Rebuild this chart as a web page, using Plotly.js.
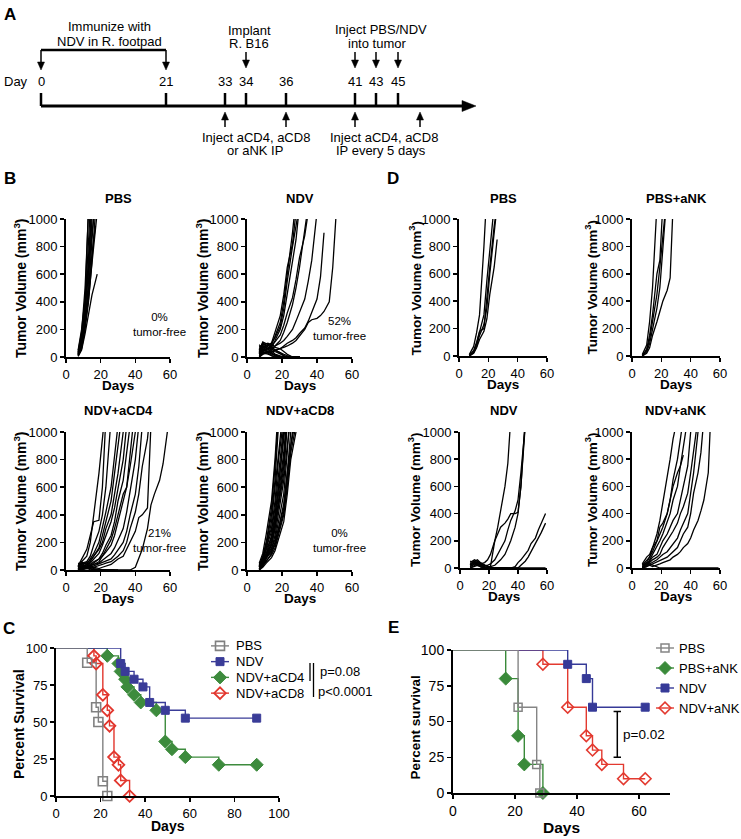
<!DOCTYPE html>
<html><head><meta charset="utf-8">
<script src="https://cdn.plot.ly/plotly-3.0.1.min.js"></script>
<style>html,body{margin:0;padding:0;background:#fff}</style>
</head><body><div id="chart" style="width:741px;height:839px"></div>
<script>
// ================= DATA =================
// Panel A (schematic timeline)
const timelineDays = ['0', '21', '33', '34', '36', '41', '43', '45'];

// Panel B: tumor volume (mm3) per mouse, on a common measurement-day grid
const bPbsDays = [7, 9, 11, 13, 15, 17, 18];
const bPbsVol = [
  [20, 120, 400, 1100],
  [40, 180, 500, 1050],
  [10, 90, 300, 700, 1150],
  [30, 150, 380, 800, 1300],
  [15, 70, 250, 550, 1000],
  [50, 200, 420, 650, 1100],
  [20, 100, 260, 480, 850, 1200],
  [10, 60, 200, 400, 700, 1050],
  [25, 110, 270, 450, 750, 950],
  [5, 50, 170, 300, 450, 550, 600],
  [35, 130, 330, 600, 900, 1100],
  [15, 80, 230, 420, 680, 900, 1050]
];

const bNdvDays = [7, 9, 12, 14, 16, 19, 21, 23, 26, 28, 30, 33, 35, 37, 40, 42, 44, 47, 49, 51, 54, 56, 58];
const bNdvVol = [
  [30, 90, 60, 90, 150, 250, 400, 600, 900, 1150],
  [50, 100, 80, 100, 180, 300, 450, 650, 820, 1050],
  [20, 60, 50, 70, 120, 200, 300, 450, 700, 850, 1100],
  [40, 110, 90, 100, 140, 220, 350, 550, 800, 950, 1100],
  [10, 40, 30, 50, 80, 120, 180, 250, 380, 500, 650, 900, 1100],
  [20, 70, 60, 80, 110, 160, 230, 320, 430, 560, 720, 880, 1050],
  [0, 30, 40, 60, 80, 100, 120, 150, 200, 260, 330, 420, 550, 700, 1050],
  [0, 20, 30, 40, 50, 60, 80, 100, 120, 140, 170, 210, 260, 330, 420, 580, 900],
  [0, 20, 40, 30, 50, 60, 70, 80, 100, 120, 150, 200, 250, 270, 280, 300, 330, 400, 650, 1050],
  [40, 80, 60, 30, 10, 0, 0, 0, 0, 0, 0],
  [60, 100, 70, 50, 20, 10, 0, 0, 0, 0, 0],
  [20, 50, 40, 20, 10, 0, 0, 0, 0, 0, 0],
  [80, 60, 40, 30, 20, 0, 0, 0, 0, 0, 0],
  [30, 70, 90, 60, 40, 20, 10, 0, 0, 0, 0],
  [10, 30, 20, 10, 0, 0, 0, 0, 0, 0, 0],
  [50, 90, 100, 80, 50, 30, 20, 10, 0, 0, 0],
  [20, 40, 60, 70, 50, 30, 10, 0, 0, 0, 0],
  [90, 60, 30, 10, 0, 0, 0, 0, 0, 0, 0],
  [30, 50, 80, 100, 70, 60, 40, 20, 0, 0, 0]
];

const bCd4Days = [7, 9, 12, 14, 16, 19, 21, 23, 26, 28, 30, 33, 35, 37, 40, 42, 44, 47, 49, 51, 54, 56, 59];
const bCd4Vol = [
  [20, 60, 100, 200, 400, 700, 950, 1200],
  [30, 80, 150, 250, 350, 360, 600, 1100],
  [10, 30, 60, 100, 180, 280, 400, 600, 1100],
  [5, 20, 40, 80, 120, 200, 300, 420, 600, 800, 1050],
  [0, 10, 30, 60, 100, 160, 250, 350, 500, 700, 900, 1200],
  [10, 40, 50, 70, 100, 150, 200, 300, 400, 550, 700, 1000],
  [0, 20, 40, 50, 80, 120, 180, 250, 350, 450, 600, 800, 1050],
  [0, 10, 20, 30, 50, 80, 120, 180, 250, 350, 500, 650, 850, 1050],
  [20, 50, 40, 30, 40, 60, 100, 150, 220, 300, 400, 550, 600, 800, 1200],
  [0, 10, 20, 40, 60, 80, 100, 130, 180, 250, 350, 480, 600, 750, 1000],
  [0, 20, 30, 30, 40, 50, 70, 90, 120, 160, 220, 300, 420, 560, 800, 1050],
  [0, 10, 20, 20, 30, 40, 50, 60, 80, 110, 150, 200, 280, 400, 550, 750, 1050],
  [0, 20, 10, 10, 20, 30, 40, 50, 60, 80, 100, 140, 200, 300, 420, 550, 750, 950, 1200],
  [0, 10, 20, 30, 20, 10, 20, 30, 40, 60, 80, 100, 150, 200, 280, 380, 400, 450, 1050],
  [0, 0, 10, 10, 0, 0, 0, 0, 0, 0, 0, 0, 0, 0, 20, 80, 150, 300, 470, 550, 650, 770, 1050],
  [30, 60, 40, 20, 10, 0, 0, 0, 0, 0, 0],
  [10, 30, 20, 0, 0, 0, 0, 0],
  [50, 40, 20, 10, 0, 0, 0, 0],
  [20, 50, 60, 30, 10, 0, 0, 0, 0, 0]
];

const bCd8Days = [7, 9, 11, 14, 16, 18, 21, 23, 25, 28];
const bCd8Vol = [
  [30, 90, 200, 450, 750, 1100],
  [50, 120, 260, 500, 800, 1200],
  [20, 80, 180, 400, 650, 1050],
  [10, 60, 150, 350, 600, 900, 1200],
  [40, 100, 200, 300, 500, 800, 1100],
  [20, 70, 160, 280, 450, 700, 1050],
  [10, 50, 120, 250, 400, 600, 1000],
  [30, 80, 150, 230, 350, 550, 850, 1150],
  [0, 40, 100, 200, 330, 500, 800, 1100],
  [20, 60, 120, 180, 300, 450, 700, 1050],
  [10, 30, 80, 150, 250, 400, 650, 900, 1100],
  [40, 70, 100, 160, 220, 350, 550, 850, 1200],
  [0, 30, 60, 120, 200, 300, 480, 700, 1000],
  [20, 50, 90, 130, 180, 280, 420, 650, 900, 1100],
  [10, 40, 70, 110, 160, 250, 400, 600, 850, 1050],
  [30, 60, 100, 140, 200, 300, 450, 700, 950, 1200],
  [0, 20, 50, 90, 140, 220, 350, 550, 800, 1000],
  [10, 40, 90, 180, 300, 480, 750, 1100],
  [20, 50, 110, 220, 380, 600, 950, 1200]
];

// Panel D
const dPbsDays = [7, 10, 12, 14, 17, 19, 21, 24, 26, 28];
const dPbsVol = [
  [10, 70, 170, 300, 800, 1200],
  [0, 30, 90, 170, 300, 550, 800, 1100],
  [5, 40, 100, 180, 200, 400, 650, 950, 1100],
  [0, 20, 60, 120, 180, 270, 450, 650, 850],
  [0, 25, 70, 150, 230, 350, 600, 900, 1100]
];
const dPbsAnkVol = [
  [10, 80, 250, 500, 1100],
  [0, 50, 150, 300, 600, 700, 1100],
  [5, 40, 120, 250, 450, 650, 900, 1200],
  [0, 30, 90, 200, 350, 500, 800, 1200],
  [0, 20, 60, 150, 250, 330, 400, 480, 570, 1100]
];
const dNdvDays = [7, 10, 12, 14, 17, 19, 21, 24, 26, 28, 31, 33, 35, 38, 40, 42, 45, 47, 49, 52, 54, 56, 59];
const dNdvVol = [
  [30, 50, 40, 30, 40, 60, 100, 200, 300, 420, 600, 770, 1100],
  [20, 40, 30, 20, 10, 0, 10, 20, 40, 60, 100, 150, 200, 300, 400, 600, 1100],
  [10, 30, 50, 40, 20, 10, 10, 200, 250, 300, 330, 360, 400, 400, 410, 600, 1050],
  [0, 20, 30, 30, 20, 20, 30, 60, 100, 150, 200, 280, 350, 420, 500, 700, 1050],
  [0, 10, 20, 10, 0, 0, 0, 0, 0, 0, 0, 0, 0, 10, 40, 60, 100, 130, 180, 220, 280, 330, 400],
  [20, 40, 30, 10, 0, 0, 0, 0, 0, 0, 0, 0, 0, 0, 0, 20, 50, 80, 120, 170, 220, 260, 330],
  [40, 60, 50, 30, 10, 0, 0, 0, 0, 0, 0, 0, 0, 0, 0, 0, 0, 0, 0, 0, 0, 0, 0],
  [20, 50, 60, 40, 20, 10, 0, 0, 0, 0, 0, 0],
  [10, 30, 20, 10, 0, 0, 0, 0, 0, 0],
  [50, 40, 30, 20, 10, 0, 0, 0, 0, 0]
];
const dNdvAnkVol = [
  [10, 40, 80, 150, 250, 350, 480, 650, 800, 950, 1100],
  [20, 60, 80, 120, 200, 250, 300, 400, 500, 650, 800, 950, 1100],
  [30, 80, 100, 150, 200, 300, 330, 400, 500, 600, 700, 750, 830],
  [0, 20, 60, 100, 150, 200, 250, 350, 400, 500, 600, 750, 900, 1100],
  [10, 30, 50, 80, 100, 150, 200, 250, 300, 350, 400, 500, 600, 750, 1000],
  [0, 20, 40, 60, 80, 100, 150, 200, 230, 270, 330, 400, 450, 550, 700, 850, 1100],
  [0, 10, 30, 40, 60, 80, 100, 120, 150, 180, 220, 280, 330, 400, 550, 700, 1000],
  [10, 30, 20, 30, 40, 50, 60, 80, 100, 120, 150, 200, 250, 300, 400, 550, 700, 850, 1100],
  [0, 10, 20, 10, 20, 30, 40, 50, 60, 80, 100, 120, 150, 180, 220, 280, 350, 420, 500, 700, 1200],
  [20, 40, 30, 20, 10, 0, 0, 0, 0, 0, 0, 0, 0, 0, 0, 0, 0, 0, 0, 0, 0, 0, 0]
];

// Panel C: Kaplan-Meier (days, percent survival)
const cNames = ['PBS', 'NDV', 'NDV+aCD4', 'NDV+aCD8'];
const cPbsDays = [0, 14, 18, 19, 21, 23];
const cPbsSurv = [100, 90, 60, 50, 10, 0];
const cNdvDays = [0, 29, 31, 35, 39, 42, 49, 58, 90];
const cNdvSurv = [100, 89.5, 84.2, 78.9, 73.7, 63.2, 57.9, 52.6, 52.6];
const cCd4Days = [0, 23, 28, 29, 31, 32, 35, 38, 45, 49, 52, 58, 73, 90];
const cCd4Surv = [100, 94.7, 89.5, 84.2, 78.9, 73.7, 68.4, 63.2, 57.9, 36.8, 31.6, 26.3, 21.1, 21.1];
const cCd8Days = [0, 17, 18, 21, 23, 24, 26, 28, 29, 33];
const cCd8Surv = [100, 94.7, 89.5, 68.4, 57.9, 47.4, 26.3, 21.1, 10.5, 0];
const cPValues = ['p=0.08', 'p<0.0001'];

// Panel E
const eNames = ['PBS', 'PBS+aNK', 'NDV', 'NDV+aNK'];
const ePbsDays = [0, 21, 27, 28];
const ePbsSurv = [100, 60, 20, 0];
const eAnkDays = [0, 17, 21, 23, 29];
const eAnkSurv = [100, 80, 40, 20, 0];
const eNdvDays = [0, 37, 43, 45, 62];
const eNdvSurv = [100, 90, 80, 60, 60];
const eNdvAnkDays = [0, 29, 37, 43, 45, 48, 55, 62];
const eNdvAnkSurv = [100, 90, 60, 40, 30, 20, 10, 10];
const ePValue = 'p=0.02';
const ePBar = [53, 25, 57]; // day, low %, high %

// ================= LAYOUT / DRAWING =================
const W = 741, H = 839;
const FONT = '"Liberation Sans", Arial, Helvetica, sans-serif';
const NARROW = '"Liberation Sans Narrow", "Arial Narrow", "Liberation Sans", sans-serif';
const px = v => v / W;
const py = v => 1 - v / H;
const sfx = n => (n === 1 ? '' : String(n));

const traces = [];
const layout = {
  width: W, height: H, margin: {l: 0, r: 0, t: 0, b: 0},
  paper_bgcolor: '#fff', plot_bgcolor: 'rgba(0,0,0,0)', showlegend: false,
  font: {family: FONT, color: '#000', size: 13},
  shapes: [], annotations: []
};
const S = layout.shapes, A = layout.annotations;

function axisBase(extra) {
  return Object.assign({
    showline: true, linewidth: 2, linecolor: '#000', ticks: 'outside', ticklen: 4,
    tickwidth: 1.5, tickcolor: '#000', showgrid: false, zeroline: false, fixedrange: true,
    tickfont: {family: FONT, size: 13, color: '#000'}
  }, extra);
}
function note(x, y, text, size, opts) {
  A.push(Object.assign({xref: 'paper', yref: 'paper', x: px(x), y: py(y), text: text, showarrow: false,
    font: {family: FONT, size: size, color: '#000'}, xanchor: 'center', yanchor: 'middle'}, opts || {}));
}

// ---- Panel A timeline ----
const timelineX = [41, 166, 225, 246, 286, 355, 376, 398];
function seg(x0, y0, x1, y1, w) {
  S.push({type: 'line', xref: 'paper', yref: 'paper', x0: px(x0), y0: py(y0), x1: px(x1), y1: py(y1),
    line: {color: '#000', width: w}});
}
function tri(pts) {
  S.push({type: 'path', xref: 'paper', yref: 'paper',
    path: 'M' + pts.map(p => px(p[0]) + ',' + py(p[1])).join('L') + 'Z',
    fillcolor: '#000', line: {color: '#000', width: 0.5}});
}
function arrowDown(x, y0, tip) { seg(x, y0, x, tip - 7, 1.5); tri([[x - 3.5, tip - 8], [x + 3.5, tip - 8], [x, tip]]); }
function arrowUp(x, y0, tip) { seg(x, y0, x, tip + 7, 1.5); tri([[x - 3.5, tip + 8], [x + 3.5, tip + 8], [x, tip]]); }

seg(41, 106, 464, 106, 3);
tri([[462, 100.5], [462, 111.5], [476, 106]]);
const nf = {font: {family: NARROW, size: 13, color: '#000'}};
timelineX.forEach((x, i) => {
  seg(x, 93, x, 106, 2.5);
  note(x, 81, timelineDays[i], 13, nf);
});
note(15.5, 81, 'Day', 13, nf);
seg(41, 50, 166, 50, 2.5);
arrowDown(41, 50, 70); arrowDown(166, 50, 70);
[246, 355, 376, 398].forEach(x => arrowDown(x, 52, 68));
[225, 286, 355, 420].forEach(x => arrowUp(x, 127, 112));
note(109, 27, 'Immunize with', 13, nf);
note(109, 42, 'NDV in R. footpad', 13, nf);
note(249.5, 31, 'Implant', 13, nf);
note(249, 44, 'R. B16', 13, nf);
note(380.5, 29.5, 'Inject PBS/NDV', 13, nf);
note(377, 43.5, 'into tumor', 13, nf);
note(256, 137, 'Inject aCD4, aCD8', 13, nf);
note(255.5, 150.5, 'or aNK IP', 13, nf);
note(384.5, 137, 'Inject aCD4, aCD8', 13, nf);
note(381, 150.5, 'IP every 5 days', 13, nf);

// ---- Panel letters ----
[['A', 10, 15], ['B', 10, 178], ['D', 393, 178], ['C', 9, 628], ['E', 393, 627.5]].forEach(l =>
  note(l[1], l[2], '<b>' + l[0] + '</b>', 17));

// ---- Spaghetti plots (B, D) ----
const spag = [
  {n: 1, days: bPbsDays, vols: bPbsVol, dom: [66, 170, 219, 357], title: 'PBS', yt: 20, ys: 14, tf: ['0%', 54, 232]},
  {n: 2, days: bNdvDays, vols: bNdvVol, dom: [247, 352, 219, 357], title: 'NDV', yt: 202, ys: 14, tf: ['52%', 53, 205]},
  {n: 3, days: bCd4Days, vols: bCd4Vol, dom: [66, 170, 432, 570], title: 'NDV+aCD4', yt: 20, ys: 14, tf: ['21%', 54, 212]},
  {n: 4, days: bCd8Days, vols: bCd8Vol, dom: [247, 352, 432, 570], title: 'NDV+aCD8', yt: 202, ys: 14, tf: ['0%', 53, 212]},
  {n: 5, days: dPbsDays, vols: dPbsVol, dom: [459, 547, 219, 356], title: 'PBS', yt: 415, ys: 13.5},
  {n: 6, days: dPbsDays, vols: dPbsAnkVol, dom: [632, 720, 219, 356], title: 'PBS+aNK', yt: 591, ys: 13.5},
  {n: 7, days: dNdvDays, vols: dNdvVol, dom: [460, 547, 432, 568], title: 'NDV', yt: 414, ys: 13.5},
  {n: 8, days: dNdvDays, vols: dNdvAnkVol, dom: [632, 720, 432, 568], title: 'NDV+aNK', yt: 591, ys: 13.5}
];
spag.forEach(p => {
  const xa = 'x' + sfx(p.n), ya = 'y' + sfx(p.n);
  p.vols.forEach(v => traces.push({type: 'scatter', mode: 'lines', x: p.days, y: v, xaxis: xa, yaxis: ya,
    line: {color: '#000', width: 1.3}, hoverinfo: 'skip'}));
  layout['xaxis' + sfx(p.n)] = axisBase({domain: [px(p.dom[0]), px(p.dom[1])], anchor: ya, range: [0, 60], tickvals: [0, 20, 40, 60]});
  layout['yaxis' + sfx(p.n)] = axisBase({domain: [py(p.dom[3]), py(p.dom[2])], anchor: xa, range: [0, 1000], dtick: 200});
  note((p.dom[0] + p.dom[1]) / 2, p.dom[2] - 21, '<b>' + p.title + '</b>', 13);
  note((p.dom[0] + p.dom[1]) / 2, p.dom[3] + 28.5, '<b>Days</b>', 13.5);
  note(p.yt, (p.dom[2] + p.dom[3]) / 2, '<b>Tumor Volume (mm<sup>3</sup>)</b>', p.ys, {textangle: -90});
  if (p.tf) {
    A.push({xref: xa, yref: ya, x: p.tf[1], y: p.tf[2], text: p.tf[0] + '<br>tumor-free', showarrow: false,
      font: {family: FONT, size: 11.5, color: '#000'}, xanchor: 'center', yanchor: 'middle'});
  }
});

// ---- Survival plots (C, E) ----
function survival(n, series, dom, xr, xticks, ydt, tickSize) {
  const xa = 'x' + sfx(n), ya = 'y' + sfx(n);
  series.slice().reverse().forEach(s => {
    traces.push({type: 'scatter', mode: 'lines', x: s.d, y: s.s, xaxis: xa, yaxis: ya,
      line: {shape: 'hv', color: s.c, width: 1.4}, hoverinfo: 'skip'});
  });
  series.slice().reverse().forEach(s => {
    traces.push({type: 'scatter', mode: 'markers', x: s.d.slice(1), y: s.s.slice(1), xaxis: xa, yaxis: ya,
      cliponaxis: false, hoverinfo: 'skip',
      marker: {symbol: s.m, size: s.z, color: s.c, line: {color: s.c, width: s.lw}}});
  });
  layout['xaxis' + sfx(n)] = axisBase({domain: [px(dom[0]), px(dom[1])], anchor: ya, range: xr, tickvals: xticks,
    tickfont: {family: FONT, size: tickSize, color: '#000'}});
  layout['yaxis' + sfx(n)] = axisBase({domain: [py(dom[3]), py(dom[2])], anchor: xa, range: [0, 100], dtick: ydt,
    tickfont: {family: FONT, size: tickSize, color: '#000'}});
}
function legendAxis(n, names, series, xdom, ydom, size, standoff) {
  const xa = 'x' + sfx(n), ya = 'y' + sfx(n);
  series.forEach((s, i) => {
    traces.push({type: 'scatter', mode: 'lines', x: [0, 1], y: [names[i], names[i]], xaxis: xa, yaxis: ya,
      line: {color: s.c, width: 1.4}, hoverinfo: 'skip'});
    traces.push({type: 'scatter', mode: 'markers', x: [0.5], y: [names[i]], xaxis: xa, yaxis: ya, cliponaxis: false,
      hoverinfo: 'skip', marker: {symbol: s.m, size: s.z, color: s.c, line: {color: s.c, width: s.lw}}});
  });
  layout['xaxis' + sfx(n)] = {domain: [px(xdom[0]), px(xdom[1])], anchor: ya, range: [0, 1], visible: false, fixedrange: true};
  layout['yaxis' + sfx(n)] = {domain: [py(ydom[1]), py(ydom[0])], anchor: xa, type: 'category', categoryarray: names,
    tickmode: 'array', tickvals: names, ticktext: names,
    range: [names.length - 0.5, -0.5], side: 'right', showline: false, showgrid: false, zeroline: false, ticks: '',
    ticklabelstandoff: standoff, fixedrange: true, tickfont: {family: FONT, size: size, color: '#000'}};
}

const cSeries = [
  {d: cPbsDays, s: cPbsSurv, c: '#808080', m: 'square-open', z: 9, lw: 1.6},
  {d: cNdvDays, s: cNdvSurv, c: '#3a3c98', m: 'square', z: 8, lw: 1},
  {d: cCd4Days, s: cCd4Surv, c: '#3d8b3d', m: 'diamond', z: 10, lw: 1},
  {d: cCd8Days, s: cCd8Surv, c: '#e2362d', m: 'diamond-open', z: 9, lw: 1.8}
];
survival(9, cSeries, [56, 279, 648, 796], [0, 100], [0, 20, 40, 60, 80, 100], 25, 13);
legendAxis(11, cNames, cSeries, [211, 229], [638, 701], 13, 6);
note(167.5, 826, '<b>Days</b>', 14);
note(19, 724, '<b>Percent Survival</b>', 14, {textangle: -90});
seg(310, 663, 310, 681, 1.3);
seg(313.5, 663, 313.5, 697, 1.3);
note(318, 671, cPValues[0], 13, {xanchor: 'left'});
note(316, 691, cPValues[1], 13, {xanchor: 'left'});

const eSeries = [
  {d: ePbsDays, s: ePbsSurv, c: '#858585', m: 'square-open', z: 8, lw: 1.5},
  {d: eAnkDays, s: eAnkSurv, c: '#3a8a3a', m: 'diamond', z: 10, lw: 1},
  {d: eNdvDays, s: eNdvSurv, c: '#363a98', m: 'square', z: 8, lw: 1},
  {d: eNdvAnkDays, s: eNdvAnkSurv, c: '#e33a30', m: 'diamond-open', z: 9, lw: 1.6}
];
survival(10, eSeries, [453, 670, 650, 793], [0, 70], [0, 20, 40, 60], 25, 14);
legendAxis(12, eNames, eSeries, [656, 674], [638, 718], 13, 4);
note(561.5, 827, '<b>Days</b>', 15.5);
note(414.5, 728, '<b>Percent survival</b>', 13.5, {textangle: -90});
// significance bar in E (data coordinates)
S.push({type: 'line', xref: 'x10', yref: 'y10', x0: ePBar[0], x1: ePBar[0], y0: ePBar[1], y1: ePBar[2], line: {color: '#000', width: 1.5}});
S.push({type: 'line', xref: 'x10', yref: 'y10', x0: ePBar[0] - 1.2, x1: ePBar[0] + 1.2, y0: ePBar[1], y1: ePBar[1], line: {color: '#000', width: 1.5}});
S.push({type: 'line', xref: 'x10', yref: 'y10', x0: ePBar[0] - 1.2, x1: ePBar[0] + 1.2, y0: ePBar[2], y1: ePBar[2], line: {color: '#000', width: 1.5}});
A.push({xref: 'x10', yref: 'y10', x: ePBar[0] + 1.3, y: (ePBar[1] + ePBar[2]) / 2, text: ePValue, showarrow: false,
  xanchor: 'left', yanchor: 'middle', font: {family: FONT, size: 13.5, color: '#000'}});

Plotly.newPlot('chart', traces, layout, {staticPlot: true, displayModeBar: false});
</script></body></html>
